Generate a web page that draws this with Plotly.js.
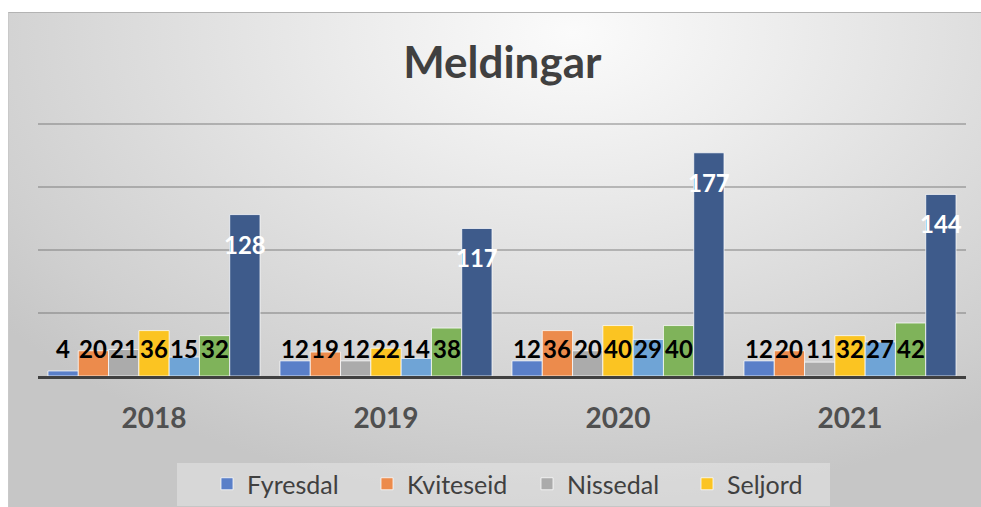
<!DOCTYPE html>
<html>
<head>
<meta charset="utf-8">
<script src="https://cdn.plot.ly/plotly-3.0.1.min.js"></script>
<style>
  html, body { margin:0; padding:0; background:#ffffff; }
  #wrap { position:relative; width:981px; height:507px; overflow:hidden; }
  #bg { position:absolute; left:8px; top:12px; width:973px; height:495px;
        border-top:1px solid #b3b3b3; border-left:1px solid #c9c9c9; box-sizing:border-box;
        background: radial-gradient(ellipse 75% 95% at 58% 4%, #fbfbfb 0%, #ececec 30%, #dcdcdc 60%, #cfcfcf 85%, #c6c6c6 100%); }
  #legbox { position:absolute; left:177px; top:463px; width:653px; height:43px; background:rgba(255,255,255,0.3); }
  #chart { position:absolute; left:0; top:0; width:981px; height:507px; }
</style>
</head>
<body>
<div id="wrap">
  <div id="bg"></div>
  <div id="legbox"></div>
  <div id="chart"></div>
</div>
<script>
// ---- data ----
const years = ['2018', '2019', '2020', '2021'];
const seriesNames = ['Fyresdal', 'Kviteseid', 'Nissedal', 'Seljord', 'Tokke', 'Vinje', 'Totalt'];
const fyresdal  = [4, 12, 12, 12];
const kviteseid = [20, 19, 36, 20];
const nissedal  = [21, 12, 20, 11];
const seljord   = [36, 22, 40, 32];
const tokke     = [15, 14, 29, 27];
const vinje     = [32, 38, 40, 42];
const totalt    = [128, 117, 177, 144];

// ---- styling ----
const seriesValues = [fyresdal, kviteseid, nissedal, seljord, tokke, vinje, totalt];
const colors = ['#5a7fc8', '#ec8b4c', '#ababab', '#fbc422', '#6fa4d6', '#7fb35a', '#3e5b8b'];
const legendShown = [true, true, true, true, false, false, false];

const W = 981, H = 507;
const margin = {l: 38, r: 15, t: 120, b: 131};
const plotW = W - margin.l - margin.r;
const bargap = 0.086;
const nSeries = seriesValues.length;
const barPx = plotW / years.length * (1 - bargap) / nSeries;

const traces = seriesValues.map((vals, j) => ({
  type: 'bar',
  name: seriesNames[j],
  x: years,
  y: vals,
  marker: {color: colors[j], line: {color: 'rgba(255,255,255,0.75)', width: 1}},
  showlegend: legendShown[j]
}));

const fam = 'Lato, "Open Sans", sans-serif';
const LABEL_LEVEL = 22; // common level of the small labels (axis units)
const annotations = [];
seriesValues.forEach((vals, j) => {
  vals.forEach((v, i) => {
    const isTotal = j === nSeries - 1;
    annotations.push({
      x: i, xref: 'x',
      y: isTotal ? v : LABEL_LEVEL, yref: 'y',
      xshift: (j - (nSeries - 1) / 2) * barPx,
      yshift: isTotal ? -13 : 0,
      yanchor: isTotal ? 'top' : 'middle',
      text: '<b>' + v + '</b>',
      showarrow: false,
      font: {family: fam, size: 24, color: isTotal ? '#ffffff' : '#000000'}
    });
  });
});

const layout = {
  width: W, height: H,
  margin: margin,
  paper_bgcolor: 'rgba(0,0,0,0)',
  plot_bgcolor: 'rgba(0,0,0,0)',
  barmode: 'group',
  bargap: bargap,
  bargroupgap: 0,
  title: {
    text: '<b>Meldingar</b>',
    font: {family: fam, size: 44, color: '#404040'},
    x: 0.512, xanchor: 'center',
    y: 1 - 63 / H, yref: 'container', yanchor: 'middle'
  },
  xaxis: {
    type: 'category',
    categoryorder: 'array', categoryarray: years,
    tickvals: years, ticktext: years.map(y => '<b>' + y + '</b>'),
    range: [-0.5, years.length - 0.5], autorange: false,
    showline: true, linecolor: '#404040', linewidth: 3,
    ticks: 'outside', ticklen: 15, tickcolor: 'rgba(0,0,0,0)',
    showgrid: false, zeroline: false,
    tickfont: {family: fam, size: 28, color: '#505050'}
  },
  yaxis: {
    range: [0, 203], autorange: false,
    dtick: 50, tick0: 0,
    showgrid: true, gridcolor: 'rgba(110,110,110,0.42)', gridwidth: 1.5,
    showticklabels: false, zeroline: false, showline: false, ticks: ''
  },
  legend: {
    orientation: 'h',
    xref: 'container', yref: 'container',
    x: 527 / W, xanchor: 'center',
    y: 1 - 484 / H, yanchor: 'middle',
    bgcolor: 'rgba(0,0,0,0)',
    font: {family: fam, size: 25, color: '#404040'},
    entrywidth: 115, entrywidthmode: 'pixels',
    itemwidth: 30
  },
  annotations: annotations
};

Plotly.newPlot('chart', traces, layout, {displayModeBar: false});
</script>
</body>
</html>
